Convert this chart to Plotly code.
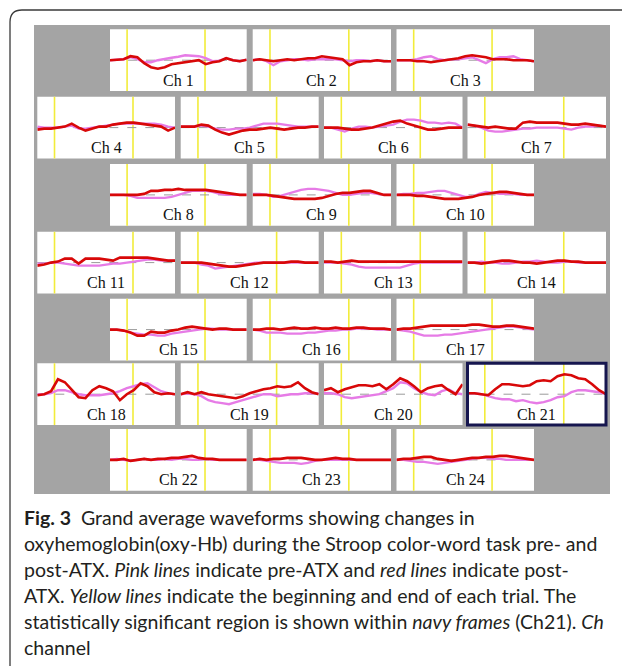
import plotly.graph_objects as go

W, H = 622, 666

# ---------------- data ----------------
TIME = [0, 5, 10, 15, 20, 25, 30, 35, 40, 45, 50, 55, 60, 65, 70, 75, 80, 85, 90, 95, 100]
TRIAL_MARKS = [12.5, 69.5]          # beginning / end of each trial (yellow lines)
CHANNELS = [f"Ch {i}" for i in range(1, 25)]
SIGNIFICANT = ["Ch 21"]

# pre-ATX (pink) and post-ATX (red) grand-average oxy-Hb, relative units
PRE_01 = [0, 0.5, 1, 3, 1, -2, -2, 0, 1.5, 2.5, 3.5, 5, 4.5, 4, 2, -1, -0.5, 2, 0, -1, 0.5]
POST_01 = [0, 0.5, 1, 4, 3, -3, -7, -8.5, -7, -4, -3, -2, -1, 0, -4, -2, -1, 2, 0, -1, 0.5]
PRE_02 = [0, 1, -1, -5, -1, 0, 1, 1, 0, 1, 1, 1, 1, 0, -1, 0, 0, -1, 0, -1, -1]
POST_02 = [0, 1, 0, -1, 0, 1, 0, 1, 2, 2, 4, 3, 2, 1, -5, -2, -1, -1, 0, -1, -1]
PRE_03 = [0, 0, 0, 1, 3, 4, 1, 0, 1, 1, 2, 3, 0, -3, 1, 3, 3, 4, 1, 0, -1]
POST_03 = [0, 0, 0, -1, -1, -2, -1, 0, 1, 2, 4, 5, 4, 3, 1, 1, 1, 0, 0, 0, -1]
PRE_04 = [1, 0, 0, 0, 1, 2, -1, -1, 0, 1, 2, 3, 4, 4, 4, 4, 4, 4, 3, 1, 0]
POST_04 = [-2, -1, -1, 0, 1, 4, 0, -3, -1, 1, 1, 3, 4, 5, 5, 4, 3, 2, 1, -3, 0]
PRE_05 = [1, 1, 1, 2, 1, -1, -2, -2, -1, -1, 0, 2, 4, 4, 4, 3, 2, 1, 1, 1, 1]
POST_05 = [1, 1, 1, 3, 2, -2, -5, -7, -5, -3, -2, -2, -1, 0, -1, -2, -1, 0, 0, 1, 1]
PRE_06 = [0, 0, -2, -4, -1, 1, 1, 0, 1, 2, 3, 6, 8, 8, 7, 5, 5, 4, 5, 4, 0]
POST_06 = [0, 0, 0, -1, -2, -2, -1, 0, 2, 4, 6, 7, 4, 2, 0, -2, -2, -1, 0, 0, 0]
PRE_07 = [3, 2, 0, -3, -4, -4, -3, -2, -1, -1, 0, 0, 0, 0, -1, -2, 0, 1, 1, 2, 1]
POST_07 = [3, 2, 1, 0, 1, 0, -1, -1, 5, 6, 5, 5, 5, 5, 4, 3, 3, 4, 3, 2, 1]
PRE_08 = [0, 0, 0, -1, -3, -3, -3, -3, -3, -2, 0, 2, 4, 4, 4, 3, 1, 0, 0, 0, 0]
POST_08 = [0, 0, 0, 0, 0, 1, 4, 4, 5, 5, 6, 5, 5, 5, 5, 4, 3, 2, 1, 0, 0]
PRE_09 = [1, 1, 0, -2, -1, 1, 3, 5, 6, 6, 5, 4, 2, 0, 0, 1, 2, 2, 1, 0, 0]
POST_09 = [0, 0, 0, -1, -2, -3, -4, -4, -4, -4, -3, -1, 1, 2, 2, 3, 4, 4, 2, 0, 0]
PRE_10 = [0, 1, 1, 2, 2, 3, 4, 4, 2, 0, -2, -2, 1, 3, 2, 1, 1, 1, 0, 0, 0]
POST_10 = [0, 0, 0, -1, -1, -2, -3, -4, -4, -4, -3, -2, 0, 1, 2, 3, 3, 2, 1, 0, 0]
PRE_11 = [-1, -1, 0, 0, -1, -2, -3, -3, -3, -3, -2, -1, -1, 0, 1, 2, 3, 3, 2, 2, 2]
POST_11 = [-3, -2, 0, 1, 4, 4, -1, 4, 4, 4, 3, 2, 5, 5, 5, 5, 5, 4, 3, 2, 2]
PRE_12 = [0, 0, 0, -2, -3, -6, -5, -4, -3, -2, -1, 0, 0, 0, 0, 0, 0, 0, 0, 0, 0]
POST_12 = [0, 0, 0, 0, -1, -2, -3, -4, -4, -3, -2, -1, 0, 0, 0, 0, 1, 1, 0, 0, 0]
PRE_13 = [0, 0, 0, -1, -2, -4, -5, -5, -5, -5, -5, -5, -3, -1, 0, 0, 0, 0, 0, 0, 0]
POST_13 = [1, 1, 0, 1, 2, 1, 1, 1, 1, 1, 1, 1, 1, 1, 1, 1, 1, 1, 1, 1, 1]
PRE_14 = [0, 0, 1, 0, 0, -1, -1, 0, 1, 1, 2, 1, 0, 0, 1, 1, 0, 0, 0, 0, 0]
POST_14 = [0, 0, -1, 0, 1, 2, 2, 1, 0, 0, -1, 0, 1, 2, 2, 1, 1, 0, 0, 0, 0]
PRE_15 = [0, 0, -1, -3, -4, -5, -5, -6, -6, -4, -3, -2, -1, 0, 1, 1, 0, 0, 0, 0, 0]
POST_15 = [0, 0, -1, -3, -6, -6, -2, -3, -3, -1, 0, 2, 3, 2, 1, 0, 1, 1, 0, 0, 0]
PRE_16 = [0, -1, -3, -3, -3, -4, -4, -4, -3, -3, -2, -1, -1, 0, 0, 1, 1, 1, 0, 0, 0]
POST_16 = [0, 0, 1, 1, 0, 1, 2, 1, 1, 2, 1, 1, 2, 1, 1, 2, 2, 1, 1, 1, 0]
PRE_17 = [0, -1, -2, -4, -6, -6, -6, -5, -5, -4, -3, -2, -1, 0, 1, 2, 3, 3, 2, 1, 0]
POST_17 = [0, 1, 1, 2, 3, 4, 4, 4, 4, 4, 4, 5, 5, 4, 3, 3, 4, 4, 3, 2, 1]
PRE_18 = [0, 0, 1, 4, 4, 2, 0, -1, -1, -1, 0, 1, 3, 6, 8, 10, 11, 7, 3, 1, 0]
POST_18 = [-1, 0, 3, 15, 12, 4, -3, -4, 4, 8, 6, 3, -6, 0, 4, 11, 8, 2, 0, 1, 0]
PRE_19 = [0, 1, 0, -2, -6, -8, -9, -10, -8, -6, -4, -2, 0, 0, -2, -1, 0, 0, 1, 1, 1]
POST_19 = [0, 2, 0, 2, 0, -1, -2, -3, -4, -2, 1, 3, 5, 6, 8, 7, 8, 12, 6, 2, 0]
PRE_20 = [1, 1, 0, -3, -4, -3, -2, -1, 0, 3, 6, 12, 11, 6, 2, 0, -1, 3, 5, 1, 0]
POST_20 = [4, 6, 2, 5, 7, 9, 9, 8, 10, 5, 10, 16, 13, 8, 2, 6, 8, 9, 4, 0, 10]
PRE_21 = [1, 1, 0, -2, -4, -5, -5, -7, -6, -8, -9, -8, -6, -3, -2, 2, 4, 4, 3, 2, 0]
POST_21 = [1, 1, 0, -1, 5, 10, 10, 9, 8, 9, 13, 14, 13, 18, 20, 19, 16, 15, 10, 4, 0]
PRE_22 = [0, 1, 0, -1, 0, 1, 0, 0, 1, 0, 1, 1, 0, 0, 1, 0, 0, 0, 0, 0, 0]
POST_22 = [0, 0, 1, -1, 0, 1, 0, 1, 1, 2, 2, 3, 4, 2, 1, 1, 0, 0, 0, 0, 0]
PRE_23 = [0, 0, -1, -2, -3, -3, -3, -4, -3, -1, 0, 0, 0, 0, 0, 0, 0, 0, 0, 0, 0]
POST_23 = [0, 1, 0, 1, 1, 2, 2, 2, 1, 0, 0, 1, 2, 1, 1, 0, 0, 0, 0, 0, 0]
PRE_24 = [0, 0, -1, -2, -2, -3, -4, -3, -2, -1, 0, 1, 2, 2, 1, 1, 0, 0, 0, 0, 0]
POST_24 = [0, 1, 1, 2, 3, 3, 1, 0, -1, 0, 1, 2, 2, 3, 3, 4, 4, 3, 2, 1, 0]

PRE = [PRE_01, PRE_02, PRE_03, PRE_04, PRE_05, PRE_06, PRE_07, PRE_08, PRE_09, PRE_10,
       PRE_11, PRE_12, PRE_13, PRE_14, PRE_15, PRE_16, PRE_17, PRE_18, PRE_19, PRE_20,
       PRE_21, PRE_22, PRE_23, PRE_24]
POST = [POST_01, POST_02, POST_03, POST_04, POST_05, POST_06, POST_07, POST_08, POST_09, POST_10,
        POST_11, POST_12, POST_13, POST_14, POST_15, POST_16, POST_17, POST_18, POST_19, POST_20,
        POST_21, POST_22, POST_23, POST_24]

CAPTION = [
    "<b>Fig. 3</b>\u00a0\u00a0Grand average waveforms showing changes in",
    "oxyhemoglobin(oxy-Hb) during the Stroop color-word task pre- and",
    "post-ATX. <i>Pink lines</i> indicate pre-ATX and <i>red lines</i> indicate post-",
    "ATX. <i>Yellow lines</i> indicate the beginning and end of each trial. The",
    "statistically significant region is shown within <i>navy frames</i> (Ch21). <i>Ch</i>",
    "channel",
]

# ---------------- layout (pixels) ----------------
ROW_TOPS = [29.3, 96.7, 164, 231.7, 298.7, 363.3, 429]
PANEL_H = 61.8
COLS3 = [(110, 246.7), (252.7, 391), (396.5, 534)]
COLS4 = [(37.3, 175), (180.7, 318.7), (324, 462.5), (467.5, 606)]
ROW_COUNTS = [3, 4, 3, 4, 3, 4, 3]
Y_RANGE = [-31, 31]
GRAY = (34, 25, 610, 494)
CAP_X = 22
CAP_Y0, CAP_DY = 517, 26


def px(x):
    return x / W


def py(y):
    return 1 - y / H


boxes = []
for r, n in enumerate(ROW_COUNTS):
    cols = COLS3 if n == 3 else COLS4
    for c in range(n):
        x0, x1 = cols[c]
        boxes.append((x0, ROW_TOPS[r], x1, ROW_TOPS[r] + PANEL_H))

fig = go.Figure()
layout = dict(
    width=W, height=H, margin=dict(l=0, r=0, t=0, b=0),
    paper_bgcolor="white", plot_bgcolor="rgba(0,0,0,0)", showlegend=False,
)
shapes = []
annotations = []

# outer rounded frame (open to right/bottom)
r0 = 12
shapes.append(dict(
    type="path", xref="paper", yref="paper",
    path=(f"M {px(10)},{py(H + 5)} L {px(10)},{py(10 + r0)} "
          f"Q {px(10)},{py(10)} {px(10 + r0)},{py(10)} L {px(W + 5)},{py(10)}"),
    line=dict(color="#3a3a3a", width=1.3), layer="below"))
# gray background
shapes.append(dict(type="rect", xref="paper", yref="paper",
                   x0=px(GRAY[0]), x1=px(GRAY[2]), y0=py(GRAY[3]), y1=py(GRAY[1]),
                   fillcolor="#a4a4a4", line=dict(width=0), layer="below"))

for i, (x0, y0, x1, y1) in enumerate(boxes):
    k = "" if i == 0 else str(i + 1)
    xa, ya = "x" + k, "y" + k
    layout["xaxis" + k] = dict(domain=[px(x0), px(x1)], range=[0, 100], visible=False,
                               anchor=ya, fixedrange=True)
    layout["yaxis" + k] = dict(domain=[py(y1), py(y0)], range=Y_RANGE, visible=False,
                               anchor=xa, fixedrange=True)
    shapes.append(dict(type="rect", xref="paper", yref="paper",
                       x0=px(x0), x1=px(x1), y0=py(y1), y1=py(y0),
                       fillcolor="white", line=dict(width=0), layer="below"))
    for t in TRIAL_MARKS:
        shapes.append(dict(type="line", xref=xa, yref=ya + " domain", x0=t, x1=t, y0=0, y1=1,
                           line=dict(color="#f2ec3a", width=1.6), layer="below"))
    shapes.append(dict(type="line", xref=xa + " domain", yref=ya, x0=0, x1=1, y0=0, y1=0,
                       line=dict(color="#9a9a9a", width=1, dash="dash"), layer="below"))
    fig.add_trace(go.Scatter(x=TIME, y=PRE[i], mode="lines", xaxis=xa, yaxis=ya,
                             line=dict(color="#e67be6", width=2.4), hoverinfo="skip"))
    fig.add_trace(go.Scatter(x=TIME, y=POST[i], mode="lines", xaxis=xa, yaxis=ya,
                             line=dict(color="#d80808", width=2.6), hoverinfo="skip"))
    annotations.append(dict(text=CHANNELS[i], xref=xa + " domain", yref=ya, x=0.5, y=-20,
                            showarrow=False, xanchor="center", yanchor="middle",
                            font=dict(family="Liberation Serif", size=16, color="#111")))
    if CHANNELS[i] in SIGNIFICANT:
        shapes.append(dict(type="rect", xref=xa + " domain", yref=ya + " domain",
                           x0=0, x1=1, y0=0, y1=1, fillcolor="rgba(0,0,0,0)",
                           line=dict(color="#16164f", width=3), layer="above"))

for j, line in enumerate(CAPTION):
    annotations.append(dict(text=line, xref="paper", yref="paper", x=px(CAP_X),
                            y=py(CAP_Y0 + j * CAP_DY), xanchor="left", yanchor="middle",
                            showarrow=False,
                            font=dict(family="Lato", size=19.5, color="#231f20")))

layout["shapes"] = shapes
layout["annotations"] = annotations
fig.update_layout(**layout)
fig.write_html("out.html", config={"displayModeBar": False},
               post_script="document.body.style.margin='0';document.body.style.overflow='hidden';")
